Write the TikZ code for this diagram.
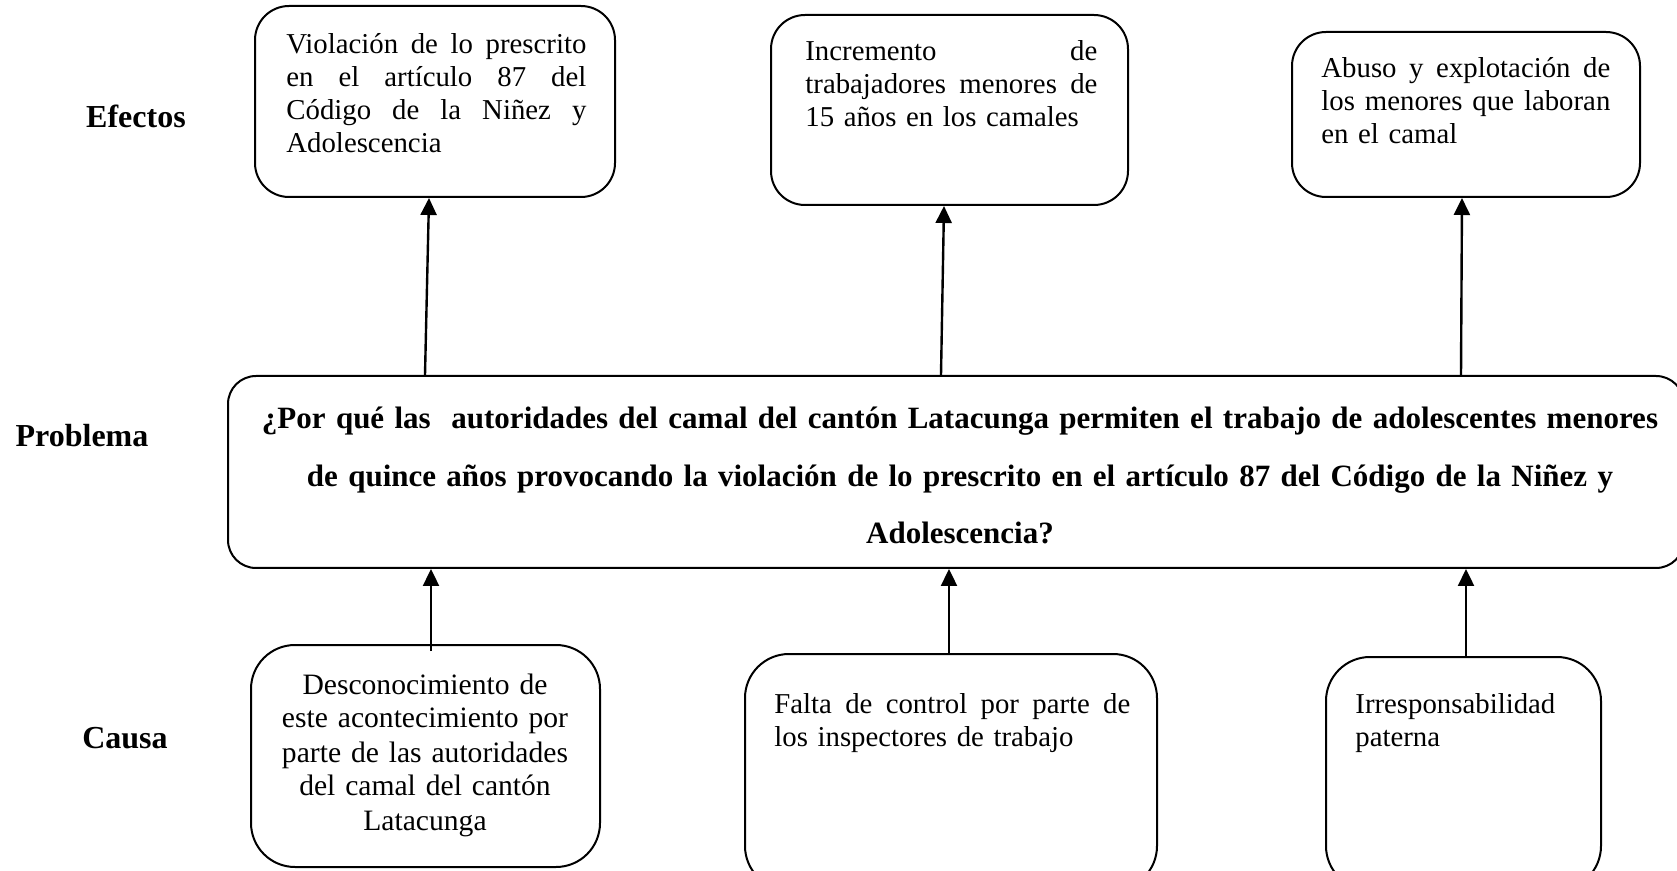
\documentclass[tikz,border=0pt]{standalone}
\usepackage{fontspec}
\setmainfont{Liberation Serif}
\usetikzlibrary{arrows.meta}
\newcommand{\jl}[2]{\leavevmode\hbox to #1{#2}}
\begin{document}
\begin{tikzpicture}[x=0.5pt,y=-0.5pt,
  box/.style={draw, line width=1pt, rounded corners=17pt, inner sep=0pt},
  txt/.style={inner sep=0pt, anchor=base west, font=\fontsize{14.4}{16.5}\selectfont},
  lbl/.style={inner sep=0pt, anchor=base, font=\bfseries\fontsize{16}{18}\selectfont},
  arr/.style={line width=1.2pt, -{Triangle[length=8.5pt,width=8pt]}}]
\useasboundingbox (0,0) rectangle (1677,871);
% boxes
\node[box, minimum width=180pt, minimum height=95.5pt] (e1) at (435,101.5) {};
\node[box, minimum width=178.5pt, minimum height=95pt] (e2) at (949.5,110) {};
\node[box, minimum width=174pt, minimum height=82.5pt] (e3) at (1466,114.5) {};
\node[box, rounded corners=14pt, minimum width=728pt, minimum height=96pt] (p) at (956,472) {};
\node[box, rounded corners=22pt, minimum width=174.5pt, minimum height=111pt] (c1) at (425.5,756) {};
\node[box, rounded corners=22pt, minimum width=206pt, minimum height=118pt] (c2) at (951,772) {};
\node[box, rounded corners=22pt, minimum width=137.5pt, minimum height=116.5pt] (c3) at (1463.5,773.5) {};
% labels
\node[lbl] (le) at (136,128) {Efectos};
\node[lbl] (lp) at (82,447) {Problema};
\node[lbl] (lc) at (125,748) {Causa};
% texts
\node[txt, text width=150pt] (te1) at (286,54) {\jl{150pt}{Violación\hfill de\hfill lo\hfill prescrito}\\\jl{150pt}{en\hfill el\hfill artículo\hfill 87\hfill del}\\\jl{150pt}{Código\hfill de\hfill la\hfill Niñez\hfill y}\\Adolescencia};
\node[txt, text width=146pt] (te2) at (805,61) {\jl{146pt}{Incremento\hfill de}\\\jl{146pt}{trabajadores\hfill menores\hfill de}\\15 años en los camales};
\node[txt, text width=144.5pt] (te3) at (1321,78) {\jl{144.5pt}{Abuso\hfill y\hfill explotación\hfill de}\\\jl{144.5pt}{los\hfill menores\hfill que\hfill laboran}\\en el camal};
\node[txt, anchor=base, text width=170pt, align=center, font=\fontsize{14.8}{17}\selectfont] (tc1) at (425,694) {Desconocimiento de\\este acontecimiento por\\parte de las autoridades\\del camal del cantón\\Latacunga};
\node[txt, text width=178pt] (tc2) at (774,713) {\jl{178pt}{Falta\hfill de\hfill control\hfill por\hfill parte\hfill de}\\los inspectores de trabajo};
\node[txt, text width=120pt] (tc3) at (1355,713) {Irresponsabilidad\\paterna};
\node[inner sep=0pt, anchor=base, text width=780pt, align=center, font=\bfseries\fontsize{15.5}{28.6}\selectfont] (tp) at (960,429) {¿Por qué las \ autoridades del camal del cantón Latacunga permiten el trabajo de adolescentes menores\\de quince años provocando la violación de lo prescrito en el artículo 87 del Código de la Niñez y\\Adolescencia?};
% arrows
\draw[arr] ([xshift=-5pt]e1.south |- p.north) -- ([xshift=-3pt]e1.south);
\draw[arr] ([xshift=-4.25pt]e2.south |- p.north) -- ([xshift=-2.75pt]e2.south);
\draw[arr] ([xshift=-2.5pt]e3.south |- p.north) -- ([xshift=-2pt]e3.south);
\draw[arr] ([xshift=2.75pt,yshift=-3.5pt]c1.north) -- ([xshift=2.75pt]c1.north |- p.south);
\draw[arr] ([xshift=-1pt]c2.north) -- ([xshift=-1pt]c2.north |- p.south);
\draw[arr] ([xshift=1.25pt]c3.north) -- ([xshift=1.25pt]c3.north |- p.south);
\end{tikzpicture}
\end{document}
